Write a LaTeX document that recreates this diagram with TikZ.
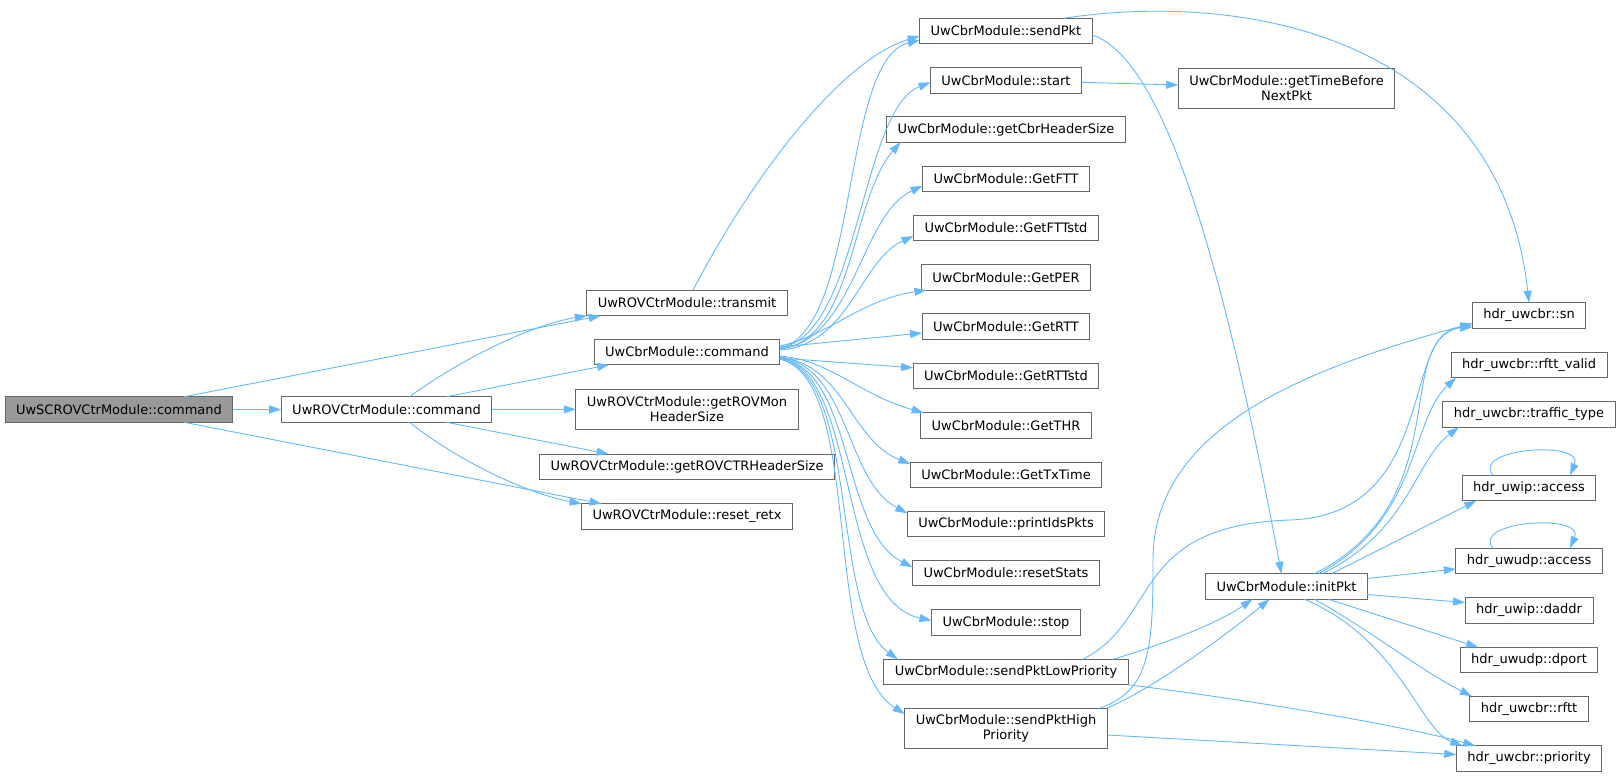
\documentclass[tikz,border=0pt]{standalone}
\usepackage{fontspec}
\setmainfont{DejaVu Sans}
\usepackage{tkz-graph}
\usetikzlibrary{arrows.meta}
\definecolor{callblue}{HTML}{63B8FF}
\definecolor{boxgray}{HTML}{666666}
\definecolor{rootgray}{HTML}{999999}
\tikzset{
  callarrow/.style={-{Triangle[length=12pt,width=8pt]}, draw=callblue, line width=0.9pt},
  twoline/.style={VertexStyle/.append style={minimum height=40pt}},
  rootfn/.style={VertexStyle/.append style={fill=rootgray}}
}

\begin{document}
\begin{tikzpicture}[x=1pt,y=-1pt]
    \GraphInit[vstyle=Normal]
    \tikzset{VertexStyle/.style={rectangle, draw=boxgray, line width=0.9pt,
      text=black, font=\fontsize{13}{15}\selectfont, align=center,
      inner xsep=11pt, inner ysep=2pt, minimum height=25.5pt}}
    \SetUpEdge[color=callblue, style={callarrow}]
    \useasboundingbox (0,0) rectangle (1620,777);
    % callers
    \begin{scope}[rootfn]
    \Vertex[x=119,y=409.5,L={UwSCROVCtrModule::command}]{scrov}
    \end{scope}
    \Vertex[x=386.5,y=409.5,L={UwROVCtrModule::command}]{rovcmd}
    % second column
    \Vertex[x=687,y=303,L={UwROVCtrModule::transmit}]{transmit}
    \Vertex[x=687,y=352,L={UwCbrModule::command}]{cbrcmd}
    \begin{scope}[twoline]
    \Vertex[x=687,y=409.3,L={UwROVCtrModule::getROVMon\\HeaderSize}]{rovmon}
    \end{scope}
    \Vertex[x=687,y=466.7,L={UwROVCtrModule::getROVCTRHeaderSize}]{rovctrhdr}
    \Vertex[x=687,y=516.5,L={UwROVCtrModule::reset\_retx}]{resetretx}
    % UwCbrModule column
    \Vertex[x=1006,y=31,L={UwCbrModule::sendPkt}]{sendpkt}
    \Vertex[x=1006,y=80.3,L={UwCbrModule::start}]{start}
    \Vertex[x=1006,y=129.5,L={UwCbrModule::getCbrHeaderSize}]{cbrhdr}
    \Vertex[x=1006,y=178.7,L={UwCbrModule::GetFTT}]{getftt}
    \Vertex[x=1006,y=228,L={UwCbrModule::GetFTTstd}]{getfttstd}
    \Vertex[x=1006,y=277.3,L={UwCbrModule::GetPER}]{getper}
    \Vertex[x=1006,y=326.5,L={UwCbrModule::GetRTT}]{getrtt}
    \Vertex[x=1006,y=375.8,L={UwCbrModule::GetRTTstd}]{getrttstd}
    \Vertex[x=1006,y=425.5,L={UwCbrModule::GetTHR}]{getthr}
    \Vertex[x=1006,y=474.7,L={UwCbrModule::GetTxTime}]{gettxtime}
    \Vertex[x=1006,y=524,L={UwCbrModule::printIdsPkts}]{printids}
    \Vertex[x=1006,y=573,L={UwCbrModule::resetStats}]{resetstats}
    \Vertex[x=1006,y=622.5,L={UwCbrModule::stop}]{stop}
    \Vertex[x=1006,y=672,L={UwCbrModule::sendPktLowPriority}]{sendlow}
    \begin{scope}[twoline]
    \Vertex[x=1006,y=728,L={UwCbrModule::sendPktHigh\\Priority}]{sendhigh}
    \Vertex[x=1286.5,y=88,L={UwCbrModule::getTimeBefore\\NextPkt}]{timebefore}
    \end{scope}
    \Vertex[x=1286.5,y=586.5,L={UwCbrModule::initPkt}]{initpkt}
    % headers
    \Vertex[x=1529,y=315.5,L={hdr\_uwcbr::sn}]{sn}
    \Vertex[x=1529,y=365,L={hdr\_uwcbr::rftt\_valid}]{rfttvalid}
    \Vertex[x=1529,y=414.5,L={hdr\_uwcbr::traffic\_type}]{traffictype}
    \Vertex[x=1529,y=488,L={hdr\_uwip::access}]{ipaccess}
    \Vertex[x=1529,y=561,L={hdr\_uwudp::access}]{udpaccess}
    \Vertex[x=1529,y=610.5,L={hdr\_uwip::daddr}]{daddr}
    \Vertex[x=1529,y=660,L={hdr\_uwudp::dport}]{dport}
    \Vertex[x=1529,y=709,L={hdr\_uwcbr::rftt}]{rftt}
    \Vertex[x=1529,y=758.5,L={hdr\_uwcbr::priority}]{priority}

    % UwSCROVCtrModule::command
    \Edge(scrov)(rovcmd)
    \draw[callarrow] ([xshift=65pt]scrov.north) -- ([xshift=14pt]transmit.south west);
    \draw[callarrow] ([xshift=65pt]scrov.south) -- ([xshift=20pt]resetretx.north west);
    % UwROVCtrModule::command
    \Edge(rovcmd)(rovmon)
    \draw[callarrow] ([xshift=23pt]rovcmd.north) .. controls (460,360) and (530,325) .. (transmit.south west);
    \draw[callarrow] ([xshift=60pt]rovcmd.north) -- ([xshift=15pt]cbrcmd.south west);
    \draw[callarrow] ([xshift=60pt]rovcmd.south) -- ([xshift=69pt]rovctrhdr.north west);
    \draw[callarrow] ([xshift=23pt]rovcmd.south) .. controls (450,455) and (520,492) .. (resetretx.north west);
    \draw[callarrow] ([xshift=6pt]transmit.north) .. controls (750,180) and (840,60) .. ([yshift=-5pt]sendpkt.west);
    % UwCbrModule::command
    \draw[callarrow] ([yshift=4pt]cbrcmd.east) .. controls (860,330) and (840,60) .. ([yshift=-9pt]sendpkt.west);
    \draw[callarrow] ([yshift=4pt]cbrcmd.east) .. controls (860,335) and (860,110) .. ([yshift=-2pt]start.west);
    \draw[callarrow] ([yshift=3pt]cbrcmd.east) .. controls (855,340) and (850,200) .. ([xshift=14pt]cbrhdr.south west);
    \draw[callarrow] ([yshift=3pt]cbrcmd.east) .. controls (855,340) and (860,215) .. ([yshift=-7pt]getftt.west);
    \draw[callarrow] ([yshift=2pt]cbrcmd.east) .. controls (850,345) and (860,260) .. ([yshift=-8pt]getfttstd.west);
    \draw[callarrow] ([yshift=6pt]cbrcmd.east) .. controls (830,335) and (860,300) .. ([xshift=5pt]getper.south west);
    \draw[callarrow] ([yshift=5pt]cbrcmd.east) -- ([yshift=-6.5pt]getrtt.west);
    \draw[callarrow] ([yshift=-6pt]cbrcmd.east) -- ([yshift=8pt]getrttstd.west);
    \draw[callarrow] ([yshift=-4pt]cbrcmd.east) .. controls (830,360) and (860,395) .. ([xshift=3pt]getthr.north west);
    \draw[callarrow] ([yshift=-5pt]cbrcmd.east) .. controls (845,365) and (850,440) .. ([yshift=-2pt]gettxtime.north west);
    \draw[callarrow] ([yshift=-5pt]cbrcmd.east) .. controls (850,368) and (845,480) .. ([yshift=-2pt]printids.north west);
    \draw[callarrow] ([yshift=-6pt]cbrcmd.east) .. controls (855,370) and (840,530) .. ([yshift=-7pt]resetstats.north west);
    \draw[callarrow] ([yshift=-6pt]cbrcmd.east) .. controls (860,372) and (835,600) .. ([yshift=2pt]stop.west);
    \draw[callarrow] ([yshift=-7pt]cbrcmd.east) .. controls (860,375) and (830,610) .. ([xshift=14pt]sendlow.north west);
    \draw[callarrow] ([yshift=-7pt]cbrcmd.east) .. controls (865,380) and (820,660) .. ([yshift=-6pt]sendhigh.north west);
    % UwCbrModule::sendPkt and start
    \draw[callarrow] ([xshift=58pt]sendpkt.north) .. controls (1250,-10) and (1500,40) .. (sn.north);
    \draw[callarrow] ([yshift=-4pt]sendpkt.east) .. controls (1170,60) and (1230,300) .. ([xshift=-5pt]initpkt.north);
    \draw[callarrow] ([yshift=-2pt]start.east) -- ([yshift=3pt]timebefore.west);
    % send with priority
    \draw[callarrow] ([xshift=77pt]sendlow.north) .. controls (1160,620) and (1130,525) .. (1290,520)
      .. controls (1440,515) and (1400,330) .. ([yshift=1pt]sn.south west);
    \draw[callarrow] ([xshift=-15pt]sendlow.north east) .. controls (1160,645) and (1215,625) .. ([xshift=-34pt]initpkt.south);
    \draw[callarrow] (sendlow.south east) .. controls (1250,700) and (1400,725) .. ([xshift=19pt]priority.north west);
    \draw[callarrow] ([xshift=-7pt]sendhigh.north east) .. controls (1150,690) and (1153,650) .. (1153,560)
      .. controls (1153,430) and (1300,370) .. ([yshift=5pt]sn.south west);
    \draw[callarrow] (sendhigh.north east) .. controls (1150,690) and (1220,640) .. ([xshift=-17pt]initpkt.south);
    \draw[callarrow] ([yshift=-7pt]sendhigh.east) -- ([yshift=4pt]priority.west);
    % UwCbrModule::initPkt
    \draw[callarrow] ([xshift=28pt]initpkt.north) .. controls (1460,500) and (1390,340) .. ([yshift=3pt]sn.south west);
    \draw[callarrow] ([xshift=32pt]initpkt.north) .. controls (1420,520) and (1410,420) .. ([xshift=5pt]rfttvalid.south west);
    \draw[callarrow] ([xshift=36pt]initpkt.north) .. controls (1410,530) and (1415,460) .. ([xshift=16pt]traffictype.south west);
    \draw[callarrow] ([xshift=45pt]initpkt.north) -- ([xshift=14pt]ipaccess.south west);
    \draw[callarrow] ([yshift=8pt]initpkt.east) -- ([yshift=-8pt]udpaccess.west);
    \draw[callarrow] ([yshift=-8pt]initpkt.east) -- ([yshift=8pt]daddr.west);
    \draw[callarrow] ([xshift=42pt]initpkt.south) -- ([xshift=18pt]dport.north west);
    \draw[callarrow] ([xshift=28pt]initpkt.south) .. controls (1370,630) and (1420,670) .. ([xshift=2pt]rftt.north west);
    \draw[callarrow] ([xshift=18pt]initpkt.south) .. controls (1400,640) and (1420,730) .. ([xshift=6pt]priority.north west);
    % recursion
    \draw[callarrow] ([xshift=-36pt]ipaccess.north) .. controls (1470,448) and (1585,440) .. ([xshift=41pt]ipaccess.north);
    \draw[callarrow] ([xshift=-36pt]udpaccess.north) .. controls (1470,521) and (1585,513) .. ([xshift=41pt]udpaccess.north);
\end{tikzpicture}
\end{document}
